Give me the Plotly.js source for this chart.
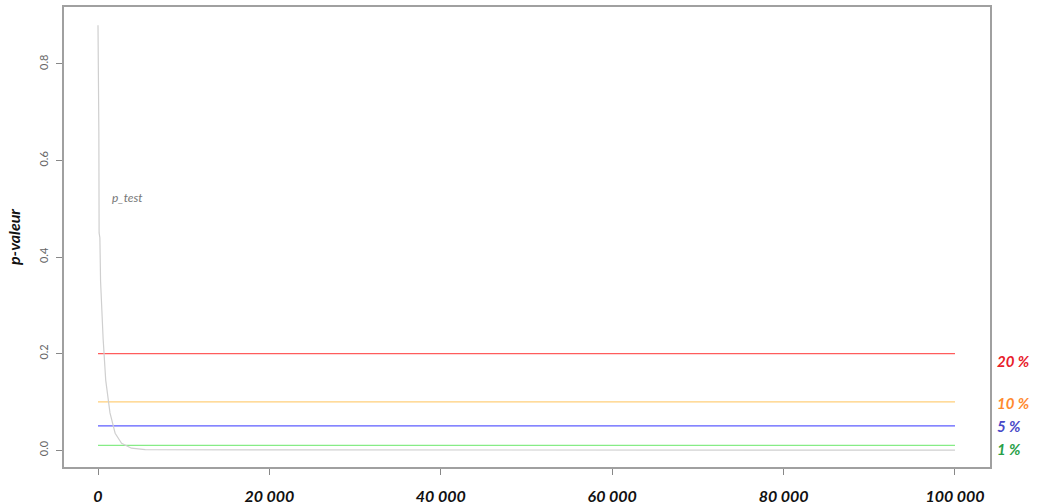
<!DOCTYPE html>
<html>
<head>
<meta charset="utf-8">
<script src="https://cdn.plot.ly/plotly-3.0.1.min.js"></script>
<style>html,body{margin:0;padding:0;background:#fff;}#chart{width:1037px;height:504px;}</style>
</head>
<body>
<div id="chart"></div>
<script>
// p-value curve (sample size n vs p-value)
const nValues = [0, 20, 100, 130, 220, 300, 450, 600, 900, 1400, 2000, 2750, 3900, 5500, 20000, 100000];
const pValues = [0.88, 0.67, 0.66, 0.45, 0.44, 0.35, 0.28, 0.23, 0.145, 0.077, 0.035, 0.014, 0.004, 0.001, 0.0003, 0.0];

// significance thresholds
const thresholdLabels = ["20 %", "10 %", "5 %", "1 %"];
const thresholdValues = [0.2, 0.1, 0.05, 0.01];
const thresholdColors = ["#ff5c5c", "#ffcf7a", "#5c5cff", "#86ec86"];
const thresholdTextColors = ["#e8202a", "#ff8a30", "#4848c8", "#28a048"];
const thresholdRange = [0, 100000];

const xTickVals = [0, 20000, 40000, 60000, 80000, 100000];
const xTickText = ["0", "20 000", "40 000", "60 000", "80 000", "100 000"];
const yTickVals = [0, 0.2, 0.4, 0.6, 0.8];
const yTickText = ["0.0", "0.2", "0.4", "0.6", "0.8"];

const traces = [];
thresholdValues.forEach((v, i) => {
  traces.push({
    x: thresholdRange, y: [v, v], mode: 'lines', type: 'scatter',
    line: {color: thresholdColors[i], width: 1.3}, hoverinfo: 'skip', showlegend: false
  });
});
traces.push({
  x: nValues, y: pValues, mode: 'lines', type: 'scatter',
  line: {color: '#cfcfcf', width: 1.2}, showlegend: false
});

const labelShift = [-7, -1, 0, -4];
const annotations = thresholdValues.map((v, i) => ({
  xref: 'paper', yref: 'y', x: 1.005, y: v, xanchor: 'left', yanchor: 'middle',
  yshift: labelShift[i],
  text: thresholdLabels[i], showarrow: false,
  font: {family: 'Lato, "Open Sans", sans-serif', size: 15, color: thresholdTextColors[i], weight: 'bold', style: 'italic'}
}));
annotations.push({
  xref: 'x', yref: 'y', x: 1400, y: 0.524, xanchor: 'left', yanchor: 'middle',
  text: 'p_test', showarrow: false,
  font: {family: 'Lato, "Open Sans", sans-serif', size: 12, color: '#777', style: 'italic'}
});

const layout = {
  width: 1037, height: 504,
  margin: {l: 64, r: 47, t: 7, b: 37},
  paper_bgcolor: '#fff', plot_bgcolor: '#fff',
  showlegend: false,
  xaxis: {
    range: [-3967, 104085], showgrid: false, zeroline: false,
    showline: true, mirror: true, linecolor: '#a0a0a0', linewidth: 2,
    ticks: 'outside', ticklen: 6, tickcolor: '#888', tickwidth: 1,
    tickvals: xTickVals, ticktext: xTickText, ticklabelstandoff: 8,
    tickfont: {family: 'Lato, "Open Sans", sans-serif', size: 16, color: '#111', weight: 'bold', style: 'italic'}
  },
  yaxis: {
    range: [-0.035, 0.918], showgrid: false, zeroline: false,
    showline: true, mirror: true, linecolor: '#a0a0a0', linewidth: 2,
    ticks: 'outside', ticklen: 6, tickcolor: '#888', tickwidth: 1,
    tickvals: yTickVals, ticktext: yTickText, tickangle: -90, ticklabelstandoff: 4,
    tickfont: {family: 'Lato, "Open Sans", sans-serif', size: 11, color: '#666'},
    title: {text: 'p-valeur', standoff: 12,
      font: {family: 'Lato, "Open Sans", sans-serif', size: 16, color: '#111', weight: 'bold', style: 'italic'}}
  },
  annotations: annotations
};

Plotly.newPlot('chart', traces, layout, {displayModeBar: false, staticPlot: true});
</script>
</body>
</html>
